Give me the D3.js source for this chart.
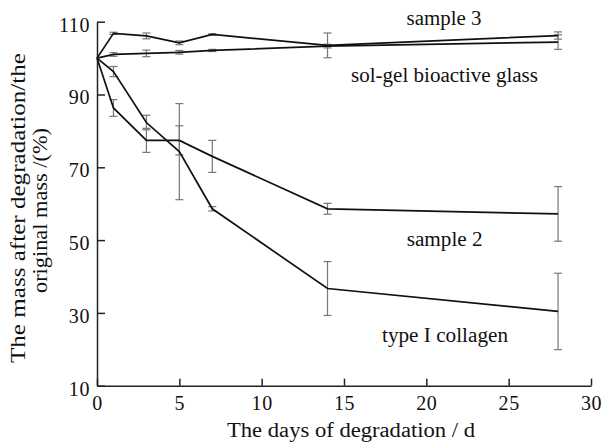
<!DOCTYPE html>
<html>
<head>
<meta charset="utf-8" />
<title>Degradation mass</title>
<script src="https://d3js.org/d3.v7.min.js"></script>
<style>
    body { margin: 0; background: #fff; }
    svg text { font-family: "Liberation Serif", "Times New Roman", serif; fill: #111; }
</style>
</head>
<body>
<svg id="chart" width="602" height="442"></svg>
<script>

// days of degradation
var days = [0, 1, 3, 5, 7, 14, 28];

// mass after degradation / original mass (%)
var sample3     = [100, 106.8, 106.1, 104.2, 106.5, 103.5, 106.2];
var sample3Err  = [0, 0.3, 0.8, 0.5, 0.2, 3.4, 1.0];
var solgel      = [100, 101.0, 101.3, 101.6, 102.1, 103.3, 104.4];
var solgelErr   = [0, 0.5, 0.9, 0.5, 0.3, 0.5, 2.0];
var sample2     = [100, 86.3, 77.4, 77.4, 73.0, 58.6, 57.2];
var sample2Err  = [0, 2.3, 3.3, 4.0, 4.4, 1.5, 7.5];
var collagen    = [100, 96.3, 82.3, 74.3, 58.6, 36.7, 30.4];
var collagenErr = [0, 1.4, 2.0, 13.2, 0.6, 7.4, 10.5];

var xTicks = [0, 5, 10, 15, 20, 25, 30];
var yTicks = [10, 30, 50, 70, 90, 110];

var seriesNames = ["sample 3", "sol-gel bioactive glass", "sample 2", "type I collagen"];
var seriesVals = [sample3, solgel, sample2, collagen];
var seriesErrs = [sample3Err, solgelErr, sample2Err, collagenErr];

var svg = d3.select("#chart");

var x = d3.scaleLinear().domain([0, 30]).range([97, 591]);
var y = d3.scaleLinear().domain([10, 110]).range([385.7, 21.7]);

// axes, ticks pointing inward
var xAxis = d3.axisBottom(x).tickValues(xTicks).tickSizeInner(-7).tickSizeOuter(0).tickPadding(12);
var yAxis = d3.axisLeft(y).tickValues(yTicks).tickSizeInner(-8).tickSizeOuter(0).tickPadding(7);

var gx = svg.append("g")
    .attr("transform", "translate(0," + y(10) + ")")
    .call(xAxis);
var gy = svg.append("g")
    .attr("transform", "translate(" + x(0) + ",0)")
    .call(yAxis);

[gx, gy].forEach(function(g) {
    g.select(".domain").attr("stroke", "#222").attr("stroke-width", 1.5);
    g.selectAll(".tick line").attr("stroke", "#222").attr("stroke-width", 1.5);
    g.selectAll(".tick text")
        .attr("font-size", 20)
        .attr("font-family", "Liberation Serif")
        .attr("fill", "#111")
        .attr("letter-spacing", 0.6);
});
gx.selectAll(".tick text").attr("dy", "0.6em");
gy.selectAll(".tick text").attr("dy", "0.47em");

// error bars
var rows = [];
seriesVals.forEach(function(vals, s) {
    vals.forEach(function(v, i) {
        if (seriesErrs[s][i] > 0) {
            rows.push({d: days[i], v: v, e: seriesErrs[s][i]});
        }
    });
});

var eb = svg.append("g")
    .attr("stroke", "#777")
    .attr("stroke-width", 1.2);

eb.selectAll(".stem")
    .data(rows)
    .enter()
    .append("line")
    .attr("x1", function(d) { return x(d.d); })
    .attr("x2", function(d) { return x(d.d); })
    .attr("y1", function(d) { return y(d.v - d.e); })
    .attr("y2", function(d) { return y(d.v + d.e); });

eb.selectAll(".capTop")
    .data(rows)
    .enter()
    .append("line")
    .attr("x1", function(d) { return x(d.d) - 4; })
    .attr("x2", function(d) { return x(d.d) + 4; })
    .attr("y1", function(d) { return y(d.v + d.e); })
    .attr("y2", function(d) { return y(d.v + d.e); });

eb.selectAll(".capBot")
    .data(rows)
    .enter()
    .append("line")
    .attr("x1", function(d) { return x(d.d) - 4; })
    .attr("x2", function(d) { return x(d.d) + 4; })
    .attr("y1", function(d) { return y(d.v - d.e); })
    .attr("y2", function(d) { return y(d.v - d.e); });

// lines
var line = d3.line()
    .x(function(d, i) { return x(days[i]); })
    .y(function(d) { return y(d); });

svg.selectAll(".series")
    .data(seriesVals)
    .enter()
    .append("path")
    .attr("d", line)
    .attr("fill", "none")
    .attr("stroke", "#111")
    .attr("stroke-width", 1.7);

// series labels (centre x, baseline y, width)
var labelPos = [[444, 25, 75], [444.5, 82, 187], [444.7, 246, 76], [445, 342, 126]];
svg.selectAll(".lab")
    .data(seriesNames)
    .enter()
    .append("text")
    .attr("x", function(d, i) { return labelPos[i][0]; })
    .attr("y", function(d, i) { return labelPos[i][1]; })
    .attr("text-anchor", "middle")
    .attr("font-size", 20)
    .attr("textLength", function(d, i) { return labelPos[i][2]; })
    .attr("lengthAdjust", "spacingAndGlyphs")
    .text(function(d) { return d; });

// axis titles
svg.append("text")
    .attr("x", 351)
    .attr("y", 437)
    .attr("text-anchor", "middle")
    .attr("font-size", 20.5)
    .attr("textLength", 248)
    .attr("lengthAdjust", "spacingAndGlyphs")
    .text("The days of degradation / d");

var yTitle = ["The mass after degradation/the", "original mass /(%)"];
var yTitlePos = [[208, 25, 310], [210.5, 47, 165]];
svg.selectAll(".ytitle")
    .data(yTitle)
    .enter()
    .append("text")
    .attr("transform", function(d, i) {
        return "translate(" + yTitlePos[i][1] + "," + yTitlePos[i][0] + ") rotate(-90)";
    })
    .attr("text-anchor", "middle")
    .attr("font-size", 20.5)
    .attr("textLength", function(d, i) { return yTitlePos[i][2]; })
    .attr("lengthAdjust", "spacingAndGlyphs")
    .text(function(d) { return d; });

</script>
</body>
</html>
